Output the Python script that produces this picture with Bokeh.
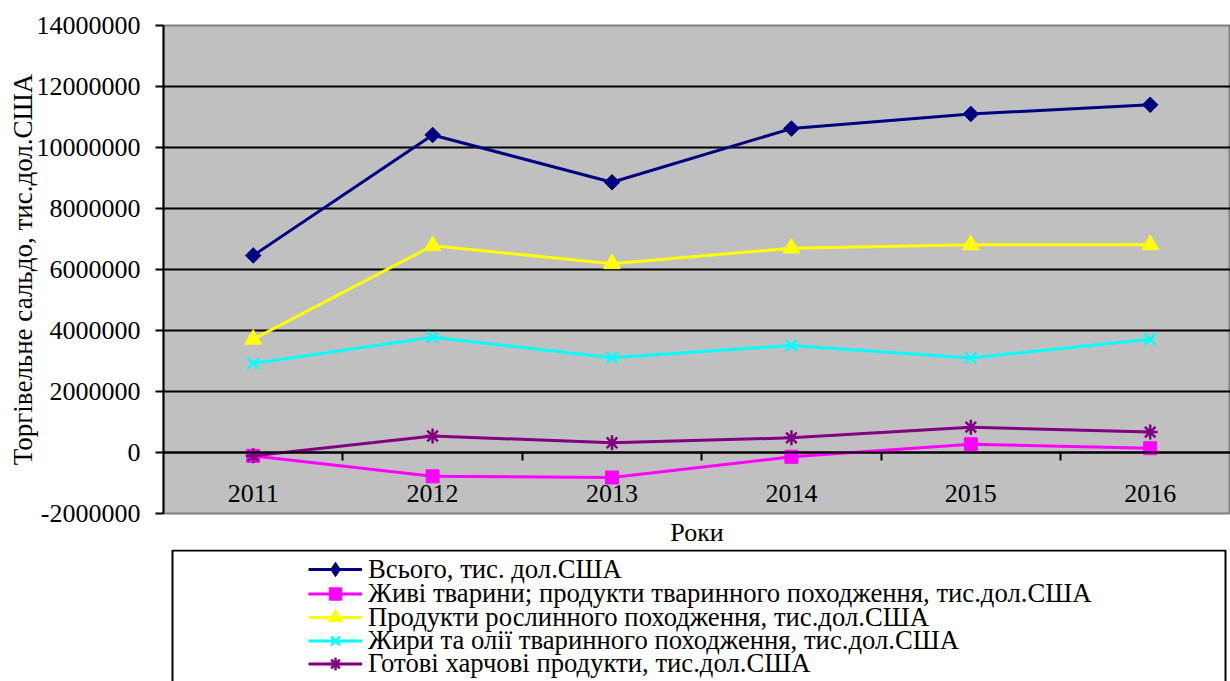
import numpy as np
from bokeh.plotting import figure
from bokeh.models import (ColumnDataSource, Range1d, LinearAxis, FixedTicker,
                          NumeralTickFormatter, Title, Legend, LegendItem,
                          BoxAnnotation)
from bokeh.layouts import column
from bokeh.embed import file_html
from bokeh.resources import INLINE

# ---------------- data ----------------
years = [2011, 2012, 2013, 2014, 2015, 2016]
total = [6460000, 10410000, 8860000, 10620000, 11100000, 11400000]
animals = [-110000, -780000, -820000, -140000, 270000, 140000]
plants = [3710000, 6780000, 6190000, 6700000, 6810000, 6810000]
fats = [2920000, 3780000, 3110000, 3510000, 3100000, 3710000]
food = [-110000, 540000, 320000, 480000, 830000, 670000]

series_names = [
    "Всього, тис. дол.США",
    "Живі тварини; продукти тваринного походження, тис.дол.США",
    "Продукти рослинного походження, тис.дол.США",
    "Жири та олії тваринного походження, тис.дол.США",
    "Готові харчові продукти, тис.дол.США",
]
y_ticks = [-2000000, 0, 2000000, 4000000, 6000000, 8000000, 10000000, 12000000, 14000000]
x_title = "Роки"
y_title = "Торгівельне сальдо, тис.дол.США"

# ---------------- styles ----------------
FONT = "Liberation Serif"
colors = ["#000080", "#FF00FF", "#FFFF00", "#00FFFF", "#800080"]
markers = ["square", "square", "triangle", "x", "asterisk"]
legend_markers = ["diamond", "square", "triangle", "x", "asterisk"]
angles = [np.pi / 4, 0, 0, 0, 0]
sizes = [11, 13, 17, 16, 15]
legend_glyph_h = [36, 31, 36, 31, 31]
LW = 3

W = 1230
H_MAIN = 549
H_LEG = 132
FRAME_L = 163
FRAME_W = W - FRAME_L
X_LEFT = 2010.5

p = figure(width=W, height=H_MAIN, output_backend="svg", toolbar_location=None,
           x_axis_type=None,
           x_range=Range1d(X_LEFT, X_LEFT + FRAME_W / 179.4),
           y_range=Range1d(-2000000, 14000000),
           min_border_left=FRAME_L, min_border_right=0, min_border_top=25,
           min_border_bottom=31)
p.background_fill_color = "#C0C0C0"
p.border_fill_color = "white"
p.outline_line_color = "#808080"
p.outline_line_width = 2

# y axis
yax = p.yaxis[0]
yax.ticker = FixedTicker(ticks=y_ticks)
yax.formatter = NumeralTickFormatter(format="0")
yax.major_label_text_font = FONT
yax.major_label_text_font_size = "26px"
yax.major_label_text_color = "black"
yax.major_tick_out = 8
yax.major_tick_in = 0
yax.minor_tick_line_color = None
yax.major_tick_line_width = 2
yax.axis_line_width = 2
yax.axis_line_color = "black"
yax.major_label_standoff = 15
yax.axis_label = y_title
yax.axis_label_text_font = FONT
yax.axis_label_text_font_size = "27px"
yax.axis_label_text_font_style = "normal"
yax.axis_label_text_color = "black"
yax.axis_label_standoff = -4

p.ygrid.grid_line_color = "black"
p.ygrid.grid_line_width = 2
p.xgrid.visible = False

# x axis at zero: tick marks at category boundaries
xticks_ax = LinearAxis(fixed_location=0,
                       ticker=FixedTicker(ticks=[y + 0.5 for y in years[:-1]]),
                       major_label_text_color=None, major_label_text_font_size="1px",
                       major_tick_out=8, major_tick_in=0, major_tick_line_width=2,
                       minor_tick_line_color=None, axis_line_width=2,
                       axis_line_color="black")
p.add_layout(xticks_ax, "below")
# x axis labels at category centres
xlab_ax = LinearAxis(fixed_location=0, ticker=FixedTicker(ticks=years),
                     major_tick_line_color=None, minor_tick_line_color=None,
                     axis_line_color=None, major_tick_out=0, major_tick_in=0,
                     major_label_standoff=32, major_label_text_font=FONT,
                     major_label_text_font_size="26px",
                     major_label_text_color="black")
p.add_layout(xlab_ax, "below")

p.add_layout(Title(text=x_title, align="center", text_font=FONT,
                   text_font_size="26px", text_font_style="normal",
                   text_color="black", standoff=5), "below")

src = ColumnDataSource(dict(year=years, s0=total, s1=animals, s2=plants,
                            s3=fats, s4=food))


def add_series(fig, i, marker, visible=True):
    col = f"s{i}"
    r1 = fig.line("year", col, source=src, line_color=colors[i], line_width=LW,
                  visible=visible)
    r2 = fig.scatter("year", col, source=src, marker=marker, size=sizes[i],
                     angle=angles[i] if marker == markers[i] else 0,
                     fill_color=colors[i], line_color=colors[i],
                     line_width=2.5 if marker in ("x", "asterisk") else 1,
                     visible=visible)
    return r1, r2


for i in range(5):
    add_series(p, i, markers[i])

# ---------------- legend panel (frame aligned with the plot frame) ----------------
lg = figure(width=W, height=H_LEG, output_backend="svg", toolbar_location=None,
            x_axis_type=None, y_axis_type=None,
            x_range=Range1d(0, FRAME_W), y_range=Range1d(0, H_LEG),
            min_border_left=FRAME_L, min_border_right=0, min_border_top=0,
            min_border_bottom=0)
lg.grid.visible = False
lg.background_fill_color = "white"
lg.border_fill_color = "white"
lg.outline_line_color = None

# legend frame box (pixel units: 1 data unit = 1 px here)
lg.add_layout(BoxAnnotation(left=172 - FRAME_L, right=1225 - FRAME_L,
                            bottom=-20, top=H_LEG - 1, fill_alpha=0,
                            line_color="black", line_width=2, line_alpha=1))

row_centres = [569, 593, 617, 640, 663]
for i in range(5):
    r1, r2 = add_series(lg, i, legend_markers[i], visible=False)
    gh = legend_glyph_h[i]
    item_h = max(gh, 30)
    leg = Legend(items=[LegendItem(label=series_names[i], renderers=[r1, r2])],
                 location=(308 - FRAME_L,
                           H_LEG - (row_centres[i] - (681 - H_LEG)) - item_h / 2),
                 padding=0, margin=0, spacing=0, glyph_width=54,
                 glyph_height=gh, label_height=20, label_standoff=6,
                 label_text_font=FONT, label_text_font_size="26.7px",
                 label_text_color="black", border_line_color=None,
                 background_fill_alpha=0, inactive_fill_alpha=0)
    lg.add_layout(leg, "center")

layout = column(p, lg, spacing=0)
open("out.html", "w").write(file_html(layout, INLINE))
